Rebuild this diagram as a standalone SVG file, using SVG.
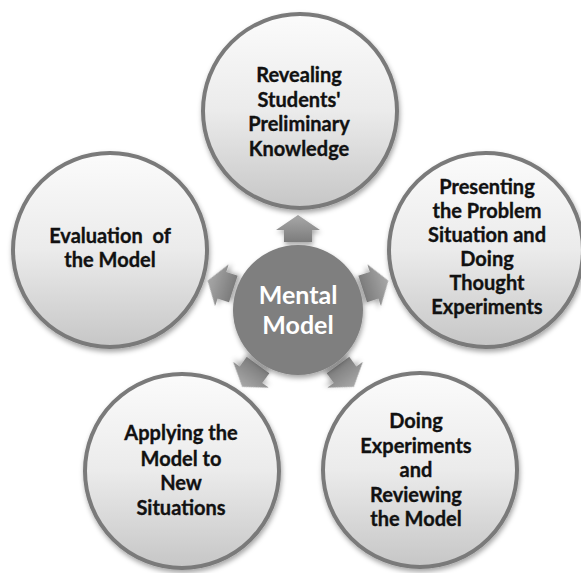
<svg xmlns="http://www.w3.org/2000/svg" width="581" height="573" viewBox="0 0 581 573">
<defs>
<linearGradient id="gNode" x1="0" y1="0" x2="0" y2="1">
<stop offset="0" stop-color="#fbfbfb"/>
<stop offset="0.5" stop-color="#ebebeb"/>
<stop offset="1" stop-color="#c6c6c6"/>
</linearGradient>
<linearGradient id="gArrow" x1="0" y1="0" x2="0" y2="1">
<stop offset="0" stop-color="#a8a8a8"/>
<stop offset="1" stop-color="#7c7c7c"/>
</linearGradient>
<filter id="shadow" x="-20%" y="-20%" width="140%" height="140%">
<feDropShadow dx="1" dy="3" stdDeviation="2.5" flood-color="#000" flood-opacity="0.35"/>
</filter>
<path id="arrow" d="M0,-95 L22,-80 L14,-80 L14,-68 L-14,-68 L-14,-80 L-22,-80 Z"/>
</defs>
<style>
.node{fill:url(#gNode);stroke:#7a7a7a;stroke-width:4;filter:url(#shadow);}
.hub{fill:#7f7f7f;filter:url(#shadow);}
.arr{fill:url(#gArrow);filter:url(#shadow);}
text{font-family:Lato,"Liberation Sans",sans-serif;font-weight:bold;text-anchor:middle;}
.t{font-size:20px;fill:#111;stroke:#111;stroke-width:0.35;white-space:pre;}
.h{font-size:25px;fill:#ffffff;}
</style>
<rect width="581" height="573" fill="#ffffff"/>
<g id="connectors">
<use href="#arrow" class="arr" transform="translate(298,310) rotate(0)"/>
<use href="#arrow" class="arr" transform="translate(298,310) rotate(72)"/>
<use href="#arrow" class="arr" transform="translate(298,310) rotate(144)"/>
<use href="#arrow" class="arr" transform="translate(298,310) rotate(216)"/>
<use href="#arrow" class="arr" transform="translate(298,310) rotate(288)"/>
</g>
<g id="node-center">
<circle class="hub" cx="298" cy="310" r="65"/>
<text class="h" x="298" y="304">Mental</text>
<text class="h" x="298" y="334">Model</text>
</g>
<g id="node-revealing">
<circle class="node" cx="300" cy="111" r="97"/>
<text class="t" x="299" y="82">Revealing</text>
<text class="t" x="299" y="107">Students'</text>
<text class="t" x="299" y="131">Preliminary</text>
<text class="t" x="299" y="156">Knowledge</text>
</g>
<g id="node-presenting">
<circle class="node" cx="486" cy="250" r="97"/>
<text class="t" x="487" y="194">Presenting</text>
<text class="t" x="487" y="218">the Problem</text>
<text class="t" x="487" y="242">Situation and</text>
<text class="t" x="487" y="266">Doing</text>
<text class="t" x="487" y="290">Thought</text>
<text class="t" x="487" y="314">Experiments</text>
</g>
<g id="node-doing">
<circle class="node" cx="420" cy="470" r="97"/>
<text class="t" x="416" y="428">Doing</text>
<text class="t" x="416" y="453">Experiments</text>
<text class="t" x="416" y="477">and</text>
<text class="t" x="416" y="502">Reviewing</text>
<text class="t" x="416" y="526">the Model</text>
</g>
<g id="node-applying">
<circle class="node" cx="182" cy="471" r="97"/>
<text class="t" x="181" y="440">Applying the</text>
<text class="t" x="181" y="466">Model to</text>
<text class="t" x="181" y="490">New</text>
<text class="t" x="181" y="515">Situations</text>
</g>
<g id="node-evaluation">
<circle class="node" cx="110" cy="250" r="97"/>
<text class="t" x="110" y="243">Evaluation  of</text>
<text class="t" x="110" y="267">the Model</text>
</g>
</svg>
